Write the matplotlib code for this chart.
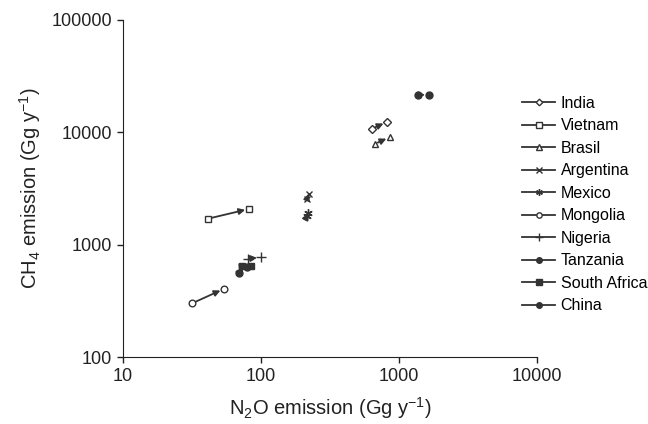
import matplotlib
matplotlib.use('Agg')
import matplotlib.pyplot as plt
from matplotlib.lines import Line2D

plt.rcParams['font.family'] = ['Liberation Sans', 'DejaVu Sans']
plt.rcParams['mathtext.fontset'] = 'custom'
plt.rcParams['mathtext.rm'] = 'Liberation Sans'

# N2O and CH4 emissions (Gg/y), start -> end for each country
countries = ['India', 'Vietnam', 'Brasil', 'Argentina', 'Mexico',
             'Mongolia', 'Nigeria', 'Tanzania', 'South Africa', 'China']
n2o_start = [640, 41, 670, 215, 215, 31.5, 80, 69, 73, 1380]
n2o_end = [820, 82, 860, 222, 220, 54, 100, 79, 84, 1650]
ch4_start = [10800, 1700, 7900, 2550, 1800, 300, 750, 560, 640, 21500]
ch4_end = [12400, 2080, 9100, 2850, 1900, 405, 770, 630, 650, 21600]

markers = ['D', 's', '^', 'x', (6, 2, 0), 'o', '+', 'o', 's', 'o']
filled = [False, False, False, False, False, False, False, True, True, True]
msizes = [4.2, 4.8, 5, 5, 6, 4.8, 7, 5, 5, 5]

col = '#333333'

fig = plt.figure(figsize=(6.48, 4.24), dpi=100)
ax = fig.add_axes([0.19, 0.158, 0.639, 0.795])
ax.set_xscale('log')
ax.set_yscale('log')

handles = []
for i, name in enumerate(countries):
    fc = col if filled[i] else 'white'
    ax.annotate('', xy=(n2o_end[i], ch4_end[i]), xytext=(n2o_start[i], ch4_start[i]),
                arrowprops=dict(arrowstyle='-|>', color=col, lw=1.3,
                                shrinkA=2, shrinkB=3, mutation_scale=9))
    ax.plot([n2o_start[i], n2o_end[i]], [ch4_start[i], ch4_end[i]], ls='none',
            marker=markers[i], ms=msizes[i], mfc=fc, mec=col, mew=1.0, color=col, zorder=3)
    handles.append(Line2D([], [], color=col, lw=1.3, marker=markers[i],
                          ms=msizes[i] * 0.8, mfc=fc, mec=col, mew=1.0, label=name))

ax.set_xlim(10, 10000)
ax.set_ylim(100, 100000)
ax.set_xticks([10, 100, 1000, 10000])
ax.set_xticklabels(['10', '100', '1000', '10000'])
ax.set_yticks([100, 1000, 10000, 100000])
ax.set_yticklabels(['100', '1000', '10000', '100000'])
ax.minorticks_off()
ax.tick_params(direction='out', length=4, width=1, labelsize=13, colors='#222222', pad=4)
for s in ['top', 'right']:
    ax.spines[s].set_visible(False)
for s in ['left', 'bottom']:
    ax.spines[s].set_color('#222222')

ax.set_xlabel('N$_2$O emission (Gg y$^{\\mathrm{-1}}$)', fontsize=14.5, labelpad=7, color='#222222')
ax.set_ylabel('CH$_4$ emission (Gg y$^{\\mathrm{-1}}$)', fontsize=14.5, labelpad=6, color='#222222')

fig.legend(handles=handles, loc='upper left', bbox_to_anchor=(0.784, 0.808),
           frameon=False, fontsize=11.5, handlelength=2.05, labelspacing=0.47,
           handletextpad=0.35)

fig.savefig('out.png', dpi=100)
